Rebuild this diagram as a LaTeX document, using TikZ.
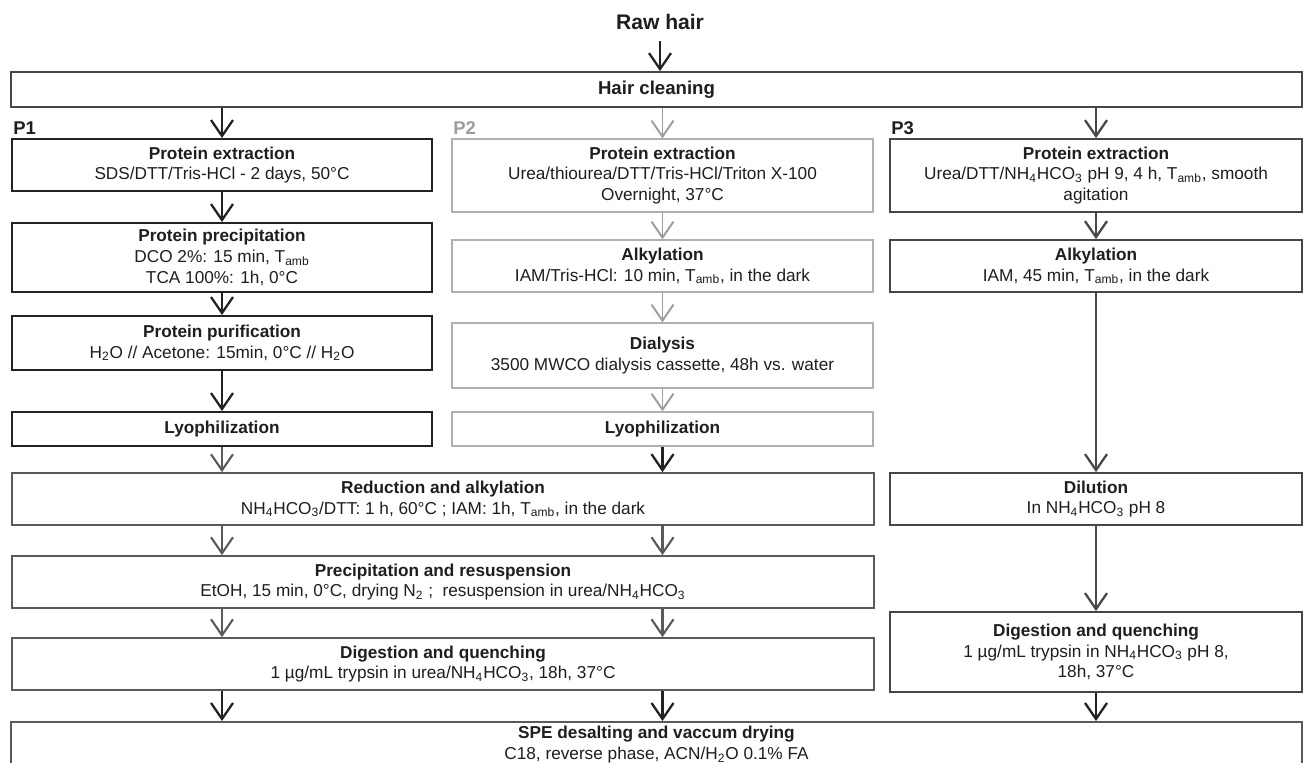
\documentclass[tikz,border=0pt]{standalone}
\usepackage{fontspec}
\setmainfont{Liberation Sans}
\usetikzlibrary{arrows.meta}

\definecolor{ink}{HTML}{1E1E1E}
\definecolor{pone}{HTML}{222222}
\definecolor{ptwo}{HTML}{B0B0B0}
\definecolor{ptwoarr}{HTML}{9C9C9C}
\definecolor{pthree}{HTML}{474747}
\definecolor{shared}{HTML}{5A5A5A}

\newcommand{\amb}{T\textsubscript{amb}}
\newcommand{\bic}{NH\textsubscript{4}HCO\textsubscript{3}}

\tikzset{
  stepbox/.style={draw, align=center, text=ink, inner sep=0pt,
    font=\fontsize{9.8}{11.8}\selectfont},
  boxone/.style={stepbox, draw=pone, line width=1.1pt},
  boxtwo/.style={stepbox, draw=ptwo, line width=0.8pt},
  boxthree/.style={stepbox, draw=pthree, line width=1pt},
  boxall/.style={stepbox, draw=shared, line width=1pt},
  tip/.tip={Straight Barb[length=0.32cm,width=0.44cm]},
  arrone/.style={draw=pone, line width=1.3pt, -tip},
  arrtwo/.style={draw=ptwoarr, line width=1.1pt, -tip},
  arrthree/.style={draw=pthree, line width=1.3pt, -tip},
  arrall/.style={draw=shared, line width=1.2pt, -tip},
  plabel/.style={anchor=south west, inner sep=0pt, font=\fontsize{10.5}{12}\selectfont\bfseries}
}

\begin{document}
\begin{tikzpicture}[x=0.02cm, y=-0.02cm]
\useasboundingbox[fill=white] (0,0) rectangle (1305,763);
\clip (0,0) rectangle (1305,763);

\node[inner sep=0pt, text=ink, font=\fontsize{12}{14}\selectfont\bfseries] (raw) at (660,22) {Raw hair};
\node[boxall, draw=pthree, minimum width=25.82cm, minimum height=0.7cm,
  font=\fontsize{10.6}{12}\selectfont\bfseries] (hair) at (656.5,89.5) {Hair cleaning};

\node[plabel, text=ink] (lab1) at (13,135) {P1};
\node[plabel, text=ptwoarr] (lab2) at (453,135) {P2};
\node[plabel, text=ink] (lab3) at (891,135) {P3};

% P1
\node[boxone, minimum width=8.4cm, minimum height=1.04cm] (ext1) at (222,165)
  {\textbf{Protein extraction}\\SDS/DTT/Tris-HCl - 2 days, 50°C};
\node[boxone, minimum width=8.4cm, minimum height=1.38cm] (prec1) at (222,257.5)
  {\textbf{Protein precipitation}\\DCO 2\%: 15 min, \amb\\TCA 100\%: 1h, 0°C};
\node[boxone, minimum width=8.4cm, minimum height=1.08cm] (pur1) at (222,343)
  {\textbf{Protein purification}\\H\textsubscript{2}O // Acetone: 15min, 0°C // H\textsubscript{2}O};
\node[boxone, minimum width=8.4cm, minimum height=0.68cm] (lyo1) at (222,429)
  {\textbf{Lyophilization}};

% P2
\node[boxtwo, minimum width=8.42cm, minimum height=1.46cm] (ext2) at (662.5,175.5)
  {\textbf{Protein extraction}\\Urea/thiourea/DTT/Tris-HCl/Triton X-100\\Overnight, 37°C};
\node[boxtwo, minimum width=8.42cm, minimum height=1.04cm] (alk2) at (662.5,266)
  {\textbf{Alkylation}\\IAM/Tris-HCl: 10 min, \amb, in the dark};
\node[boxtwo, minimum width=8.42cm, minimum height=1.3cm] (dial2) at (662.5,355.5)
  {\textbf{Dialysis}\\3500 MWCO dialysis cassette, 48h vs. water};
\node[boxtwo, minimum width=8.42cm, minimum height=0.68cm] (lyo2) at (662.5,429)
  {\textbf{Lyophilization}};

% P3
\node[boxthree, minimum width=8.24cm, minimum height=1.46cm] (ext3) at (1096,175.5)
  {\textbf{Protein extraction}\\Urea/DTT/\bic{} pH 9, 4 h, \amb, smooth\\agitation};
\node[boxthree, minimum width=8.24cm, minimum height=1.04cm] (alk3) at (1096,266)
  {\textbf{Alkylation}\\IAM, 45 min, \amb, in the dark};
\node[boxthree, minimum width=8.24cm, minimum height=1.04cm] (dil3) at (1096,499)
  {\textbf{Dilution}\\In \bic{} pH 8};
\node[boxthree, minimum width=8.24cm, minimum height=1.6cm] (dig3) at (1096,652)
  {\textbf{Digestion and quenching}\\1 µg/mL trypsin in \bic{} pH 8,\\18h, 37°C};

% P1 + P2
\node[boxall, minimum width=17.24cm, minimum height=1.04cm] (red) at (443,499)
  {\textbf{Reduction and alkylation}\\\bic/DTT: 1 h, 60°C ; IAM: 1h, \amb, in the dark};
\node[boxall, minimum width=17.24cm, minimum height=1.04cm] (resus) at (443,582)
  {\textbf{Precipitation and resuspension}\\EtOH, 15 min, 0°C, drying N\textsubscript{2} ;\ \ resuspension in urea/\bic};
\node[boxall, minimum width=17.24cm, minimum height=1.04cm] (dig) at (443,664)
  {\textbf{Digestion and quenching}\\1 µg/mL trypsin in urea/\bic, 18h, 37°C};

\node[boxall, anchor=north, minimum width=25.82cm, minimum height=0.92cm] (spe) at (656.5,721)
  {\textbf{SPE desalting and vaccum drying}\\C18, reverse phase, ACN/H\textsubscript{2}O 0.1\% FA};

\draw[arrone] ([yshift=-0.22cm]raw.south) -- (raw.south |- hair.north);

\draw[arrone] (hair.south -| ext1) -- (ext1);
\path[arrone] (ext1) edge (prec1);
\path[arrone] (prec1) edge (pur1);
\path[arrone] (pur1) edge (lyo1);

\draw[arrtwo] (hair.south -| ext2) -- (ext2);
\path[arrtwo] (ext2) edge (alk2);
\path[arrtwo] (alk2) edge (dial2);
\path[arrtwo] (dial2) edge (lyo2);

\draw[arrthree] (hair.south -| ext3) -- (ext3);
\path[arrthree] (ext3) edge (alk3);
\path[arrthree] (alk3) edge (dil3);
\path[arrthree] (dil3) edge (dig3);
\draw[arrone] (dig3) -- (dig3 |- spe.north);

\draw[arrall] (lyo1) -- (lyo1 |- red.north);
\draw[arrone] (lyo2) -- (lyo2 |- red.north);
\draw[arrall] (red.south -| lyo1) -- (resus.north -| lyo1);
\draw[arrall] (red.south -| lyo2) -- (resus.north -| lyo2);
\draw[arrall] (resus.south -| lyo1) -- (dig.north -| lyo1);
\draw[arrall] (resus.south -| lyo2) -- (dig.north -| lyo2);
\draw[arrone] (dig.south -| lyo1) -- (spe.north -| lyo1);
\draw[arrone] (dig.south -| lyo2) -- (spe.north -| lyo2);
\end{tikzpicture}
\end{document}
